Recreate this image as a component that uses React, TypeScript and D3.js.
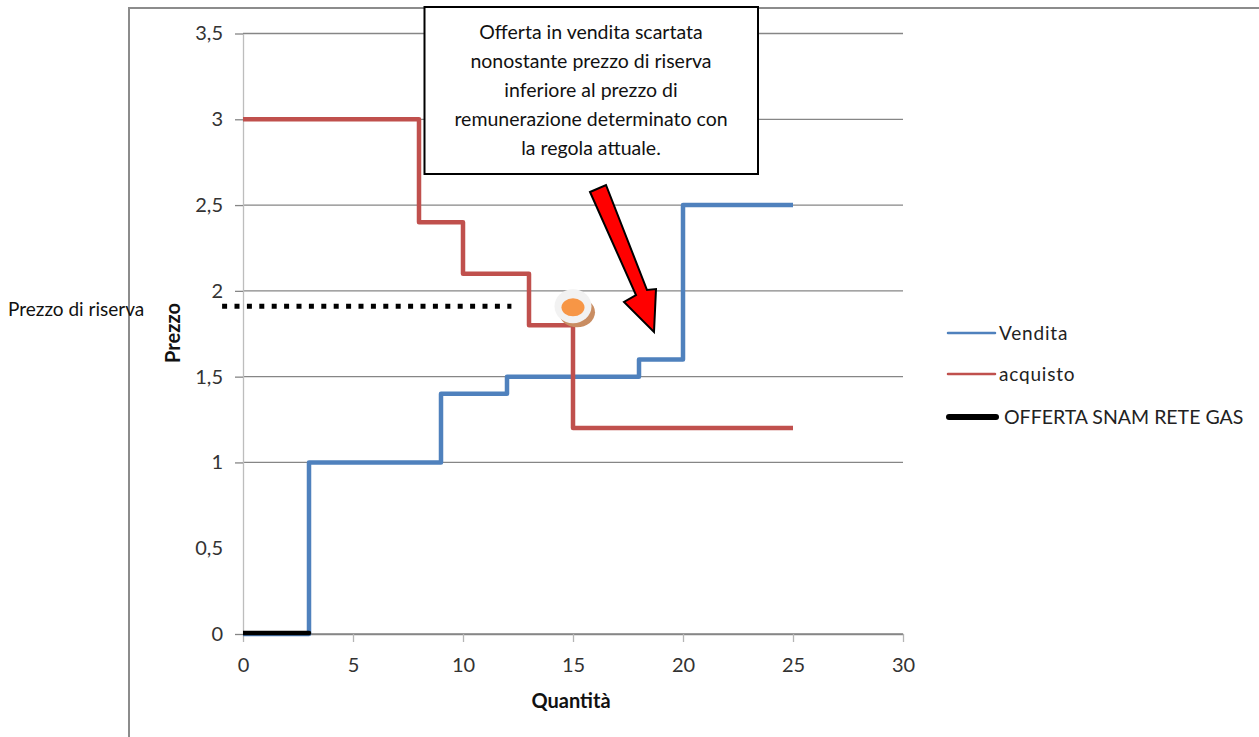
import { useEffect, useRef } from "react";
import * as d3 from "d3";

type Pt = [number, number];

const venditaPts: Pt[] = [
  [0, 0], [3, 0], [3, 1], [9, 1], [9, 1.4], [12, 1.4], [12, 1.5],
  [18, 1.5], [18, 1.6], [20, 1.6], [20, 2.5], [25, 2.5],
];
const acquistoPts: Pt[] = [
  [0, 3], [8, 3], [8, 2.4], [10, 2.4], [10, 2.1], [13, 2.1], [13, 1.8],
  [15, 1.8], [15, 1.2], [25, 1.2],
];
const snamPts: Pt[] = [[0, 0], [3, 0]];
const riservaPts: Pt[] = [[-0.95, 1.91], [12.2, 1.91]];
const scartataPt: Pt = [15, 1.91];

const xTicks = [0, 5, 10, 15, 20, 25, 30];
const yTicks = [0, 0.5, 1, 1.5, 2, 2.5, 3, 3.5];
// la griglia a 0,5 non si vede nel grafico originale
const gridTicks = [0, 1, 1.5, 2, 2.5, 3, 3.5];
const calloutLines = [
  "Offerta in vendita scartata",
  "nonostante prezzo di riserva",
  "inferiore al prezzo di",
  "remunerazione determinato con",
  "la regola attuale.",
];

const W = 1259;
const H = 737;
const FONT = "Lato, 'Open Sans', sans-serif";
const BLUE = "#4F81BD";
const RED = "#C0504D";
const GRID = "#868686";

const x = d3.scaleLinear().domain([0, 30]).range([243, 903]);
const y = d3.scaleLinear().domain([0, 3.5]).range([634, 33.5]);
const line = d3.line<Pt>().x((d) => x(d[0])).y((d) => y(d[1]));
const comma = (d: d3.NumberValue) => String(d).replace(".", ",");

const App = () => {
  const xRef = useRef<SVGGElement | null>(null);
  const yRef = useRef<SVGGElement | null>(null);

  useEffect(() => {
    if (!xRef.current || !yRef.current) return;

    const gx = d3
      .select(xRef.current)
      .call(d3.axisBottom(x).tickValues(xTicks).tickSize(8).tickSizeOuter(0).tickPadding(20).tickFormat(comma));
    gx.select(".domain").attr("stroke", GRID).attr("stroke-width", 1.3);
    gx.selectAll(".tick line").attr("stroke", "#b5b5b5").attr("stroke-width", 1.3);
    gx.selectAll(".tick text").attr("dy", "0.5em");

    const gy = d3
      .select(yRef.current)
      .call(d3.axisLeft(y).tickValues(yTicks).tickSize(8).tickSizeOuter(0).tickPadding(12).tickFormat(comma));
    gy.select(".domain").attr("stroke", "#bdbdbd").attr("stroke-width", 1.3);
    gy.selectAll<SVGLineElement, number>(".tick line")
      .attr("stroke", GRID)
      .attr("stroke-width", 1.3)
      .attr("display", (d) => (gridTicks.includes(d) ? null : "none"));

    d3.selectAll([xRef.current, yRef.current])
      .attr("font-family", FONT)
      .attr("font-size", 20)
      .selectAll("text")
      .attr("fill", "#333");
  }, []);

  return (
    <svg
      width={W}
      height={H}
      style={{ position: "absolute", left: 0, top: 0, display: "block", background: "#fff" }}
      fontFamily={FONT}
    >
      <defs>
        <clipPath id="plot-clip">
          <rect x={x(0)} y={0} width={W - x(0)} height={H} />
        </clipPath>
      </defs>

      {/* cornice */}
      <path d={`M129 ${H}V8H${W}`} fill="none" stroke="#8c8c8c" strokeWidth={2} />

      {/* griglia */}
      {gridTicks.map((t) => (
        <line key={t} x1={x(0)} x2={x(30)} y1={y(t)} y2={y(t)} stroke={GRID} strokeWidth={1.3} />
      ))}
      <g ref={xRef} transform={`translate(0,${y(0)})`} />
      <g ref={yRef} transform={`translate(${x(0)},0)`} />

      <path d={line(venditaPts)!} fill="none" stroke={BLUE} strokeWidth={4.5} strokeLinejoin="round" />
      <path d={line(acquistoPts)!} fill="none" stroke={RED} strokeWidth={4.5} strokeLinejoin="round" />
      <g clipPath="url(#plot-clip)">
        <path
          d={line(snamPts)!}
          transform="translate(0,-1)"
          fill="none"
          stroke="#000"
          strokeWidth={4.5}
          strokeLinecap="round"
        />
      </g>
      <path d={line(riservaPts)!} fill="none" stroke="#000" strokeWidth={5} strokeDasharray="5 7.4" />

      {/* pallino offerta scartata */}
      <g transform={`translate(${x(scartataPt[0])},${y(scartataPt[1])})`}>
        <ellipse cx={4} cy={6} rx={18} ry={15} fill="#c98d62" />
        <ellipse cx={0} cy={0} rx={18.5} ry={17} fill="#f2f2f2" />
        <ellipse cx={0} cy={1} rx={11.5} ry={9} fill="#f79646" />
      </g>

      {/* riquadro */}
      <rect x={424.5} y={7} width={333.5} height={167} fill="#fff" stroke="#000" strokeWidth={2} />
      {calloutLines.map((s, i) => (
        <text key={s} x={591} y={38.5 + i * 29} textAnchor="middle" fontSize={19.5} fill="#111">
          {s}
        </text>
      ))}

      {/* freccia */}
      <polygon
        points="590,192 606,185 647,290 656,289 654,332 624,302 636,295"
        fill="#f00"
        stroke="#000"
        strokeWidth={2}
      />

      {/* legenda */}
      <line x1={948} x2={995} y1={333} y2={333} stroke={BLUE} strokeWidth={2.5} strokeLinecap="round" />
      <text x={999} y={340} fontSize={19} fill="#222" letterSpacing={0.8}>Vendita</text>
      <line x1={948} x2={995} y1={374} y2={374} stroke={RED} strokeWidth={2.5} strokeLinecap="round" />
      <text x={999} y={381} fontSize={19} fill="#222" letterSpacing={0.8}>acquisto</text>
      <line x1={949} x2={996} y1={417} y2={417} stroke="#000" strokeWidth={6} strokeLinecap="round" />
      <text x={1004} y={424} fontSize={19.5} fill="#222">OFFERTA SNAM RETE GAS</text>

      {/* titoli assi */}
      <text x={8} y={316} fontSize={19} fill="#111">Prezzo di riserva</text>
      <text
        transform="translate(180,333) rotate(-90)"
        textAnchor="middle"
        fontSize={20}
        fontWeight="bold"
        fill="#111"
      >
        Prezzo
      </text>
      <text x={571} y={708} textAnchor="middle" fontSize={20} fontWeight="bold" fill="#111">
        Quantità
      </text>
    </svg>
  );
};

export default App;
